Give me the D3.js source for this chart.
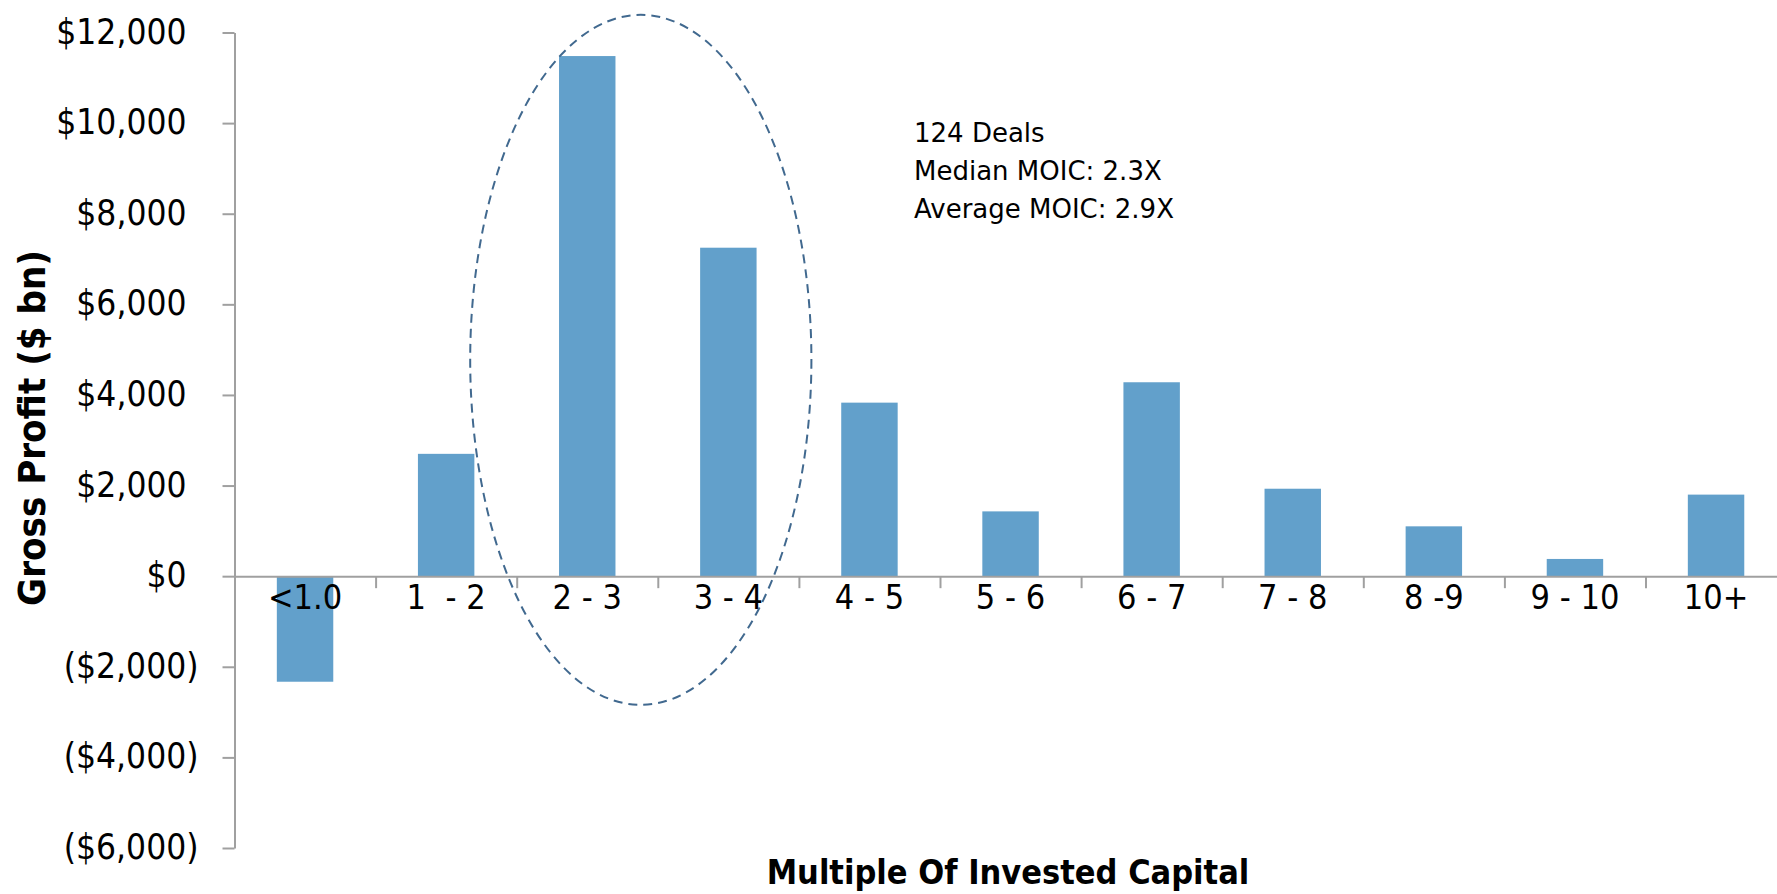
<!DOCTYPE html>
<html>
<head>
<meta charset="utf-8">
<script src="https://cdn.jsdelivr.net/npm/d3@7"></script>
<style>
  html, body { margin: 0; padding: 0; background: #fff; }
  text { fill: #000; }
</style>
</head>
<body>
<div id="chart"></div>
<script>
const categories = ["<1.0", "1  - 2", "2 - 3", "3 - 4", "4 - 5", "5 - 6", "6 - 7", "7 - 8", "8 -9", "9 - 10", "10+"];
const grossProfit = [-2330, 2700, 11480, 7250, 3830, 1430, 4280, 1930, 1100, 380, 1800];
const yTicks = [-6000, -4000, -2000, 0, 2000, 4000, 6000, 8000, 10000, 12000];
const noteLines = ["124 Deals", "Median MOIC: 2.3X", "Average MOIC: 2.9X"];

const width = 1777, height = 894;
const left = 234.5, step = 141.1;
const font = "'DejaVu Sans Condensed', 'DejaVu Sans', sans-serif";

const svg = d3.select("#chart").append("svg")
    .attr("width", width).attr("height", height);

const x = d3.scaleBand()
    .domain(categories)
    .range([left, left + step * categories.length])
    .paddingInner(0.6)
    .paddingOuter(0.3);

const y = d3.scaleLinear()
    .domain([-6000, 12000])
    .range([848, 32.5]);

const fmt = d3.format(",");
const money = v => v < 0 ? "($" + fmt(-v) + ")" : "$" + fmt(v);

// bars
svg.append("g").selectAll("rect").data(grossProfit).enter().append("rect")
    .attr("x", (d, i) => x(categories[i]))
    .attr("width", x.bandwidth())
    .attr("y", d => y(Math.max(0, d)))
    .attr("height", d => Math.abs(y(d) - y(0)))
    .attr("fill", "#62a0cb");

// y axis
const yAxis = svg.append("g")
    .attr("transform", `translate(${left},0)`)
    .call(d3.axisLeft(y).tickValues(yTicks).tickFormat(money).tickSize(12).tickPadding(24).tickSizeOuter(0));
yAxis.selectAll("text")
    .style("font-family", font)
    .style("font-size", "35px")
    .attr("dy", "0.3em")
    .attr("dx", d => d >= 0 ? -12 : 0);

// x axis: boundary ticks + labels
const xb = d3.scaleLinear().domain([0, categories.length]).range(x.range());
svg.append("g")
    .attr("transform", `translate(0,${y(0)})`)
    .call(d3.axisBottom(xb).tickValues(d3.range(1, categories.length + 1)).tickFormat("").tickSize(12).tickSizeOuter(0));

const xAxis = svg.append("g")
    .attr("transform", `translate(0,${y(0)})`)
    .call(d3.axisBottom(x).tickSize(0).tickPadding(9));
xAxis.select(".domain").remove();
xAxis.selectAll("text")
    .style("font-family", font)
    .style("font-size", "34px")
    .style("white-space", "pre");

svg.selectAll(".domain, .tick line")
    .attr("stroke", "#a0a0a0")
    .attr("stroke-width", 2);

// axis titles
svg.append("text")
    .attr("transform", "translate(45,428) rotate(-90)")
    .attr("text-anchor", "middle")
    .style("font-family", font)
    .style("font-weight", "bold")
    .style("font-size", "38px")
    .text("Gross Profit ($ bn)");

svg.append("text")
    .attr("x", 1008).attr("y", 884)
    .attr("text-anchor", "middle")
    .style("font-family", font)
    .style("font-weight", "bold")
    .style("font-size", "34px")
    .text("Multiple Of Invested Capital");

// highlight around 2-3 and 3-4
const cx = x("3 - 4") - step * 0.3 - 17;
svg.append("ellipse")
    .attr("cx", cx)
    .attr("cy", (y(12390) + y(-2840)) / 2)
    .attr("rx", 170.6)
    .attr("ry", (y(-2840) - y(12390)) / 2)
    .attr("fill", "none")
    .attr("stroke", "#41698f")
    .attr("stroke-width", 2)
    .attr("stroke-dasharray", "9,6");

// note
svg.append("g").selectAll("text").data(noteLines).enter().append("text")
    .attr("x", 914)
    .attr("y", (d, i) => 142 + i * 38)
    .style("font-family", "'DejaVu Sans', sans-serif")
    .style("font-size", "26px")
    .text(d => d);
</script>
</body>
</html>
